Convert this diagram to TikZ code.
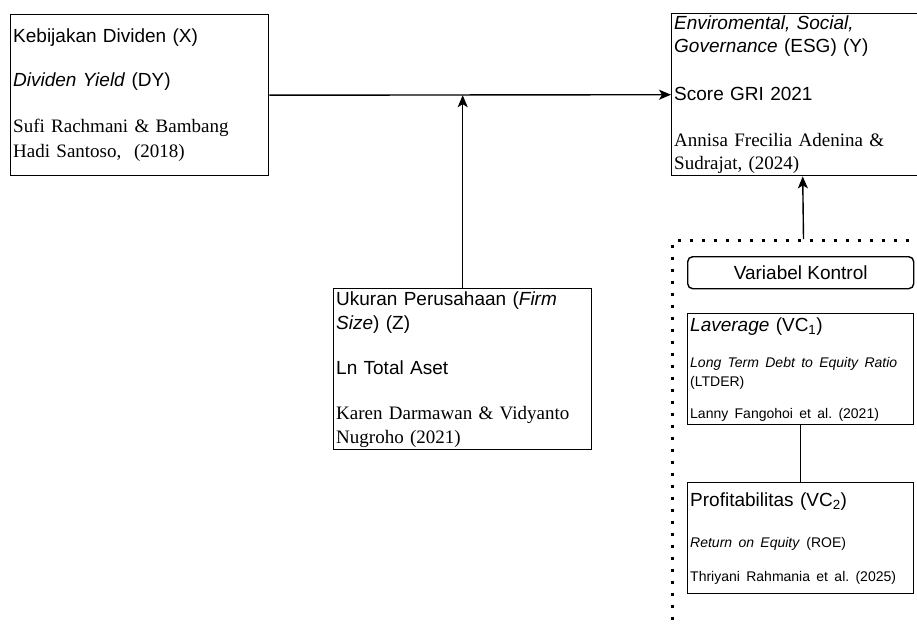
\documentclass[tikz,border=0pt]{standalone}
\usepackage{fontspec}
\setmainfont{Liberation Serif}
\setsansfont{Liberation Sans}
\usetikzlibrary{arrows.meta}
\frenchspacing

\begin{document}
\begin{tikzpicture}[x=1pt, y=-1pt, line width=1.4pt,
  box/.style={draw, anchor=north west, align=left, inner xsep=2.5pt, inner ysep=0pt},
  dotline/.style={draw, line width=3pt, dash pattern=on 3pt off 9pt},
  arr/.style={-{Stealth[length=12pt, width=10pt, inset=3pt]}}]
  \useasboundingbox (0,0) rectangle (917,623);
  \clip (0,0) rectangle (917,623);
  \fill[white] (0,0) rectangle (917,623);

  \node[box, text width=253pt, minimum height=161pt, font=\sffamily\fontsize{19}{25}\selectfont] (divx) at (10,14)
    {Kebijakan Dividen (X)\\[19pt] \textit{Dividen Yield} (DY)\\[21pt]
     \rmfamily Sufi Rachmani \& Bambang\\ Hadi Santoso,~ (2018)};
  \node[box, text width=257pt, minimum height=162pt, font=\sffamily\fontsize{19}{23}\selectfont] (esg) at (671,13)
    {\textit{Enviromental, Social,}\\ \textit{Governance} (ESG) (Y)\\[25pt] Score GRI 2021\\[23pt]
     \rmfamily Annisa Frecilia Adenina \&\\ Sudrajat, (2024)};
  \node[box, text width=253pt, minimum height=161pt, font=\sffamily\fontsize{19}{24}\selectfont] (size) at (333,288)
    {Ukuran Perusahaan (\textit{Firm}\\ \textit{Size}) (Z)\\[21pt] Ln Total Aset\\[21pt]
     \rmfamily Karen Darmawan \& Vidyanto\\ Nugroho (2021)};

  \node[dotline, anchor=north west, minimum width=262pt, minimum height=420pt, inner sep=0pt] (ctrl) at (671,239) {};
  \node[draw, rounded corners=5pt, anchor=north west, minimum width=226pt, minimum height=32pt, inner sep=0pt,
    font=\sffamily\fontsize{19}{23}\selectfont] (kontrol) at (687,256) {Variabel Kontrol};
  \node[box, text width=221pt, minimum height=111pt, font=\sffamily\fontsize{19}{19}\selectfont] (vc1) at (687,313)
    {\textit{Laverage} (VC\textsubscript{1})\\[17pt]
     \fontsize{14}{19}\selectfont\textit{Long Term Debt to Equity Ratio}\\ (LTDER)\\[13pt]
     Lanny Fangohoi et al. (2021)};
  \node[box, text width=221pt, minimum height=111pt, font=\sffamily\fontsize{19}{20}\selectfont] (vc2) at (687,482)
    {Profitabilitas (VC\textsubscript{2})\\[21pt]
     \fontsize{14}{20}\selectfont\textit{Return on Equity} (ROE)\\[14pt]
     Thriyani Rahmania et al. (2025)};

  \draw[arr] (divx.east) -- (esg.west);
  \draw[arr] (size.north) -- (size.north |- divx.east);
  \draw[arr] (ctrl.north) -- (esg.south);
  \draw (vc1.south) -- (vc2.north);
\end{tikzpicture}
\end{document}
